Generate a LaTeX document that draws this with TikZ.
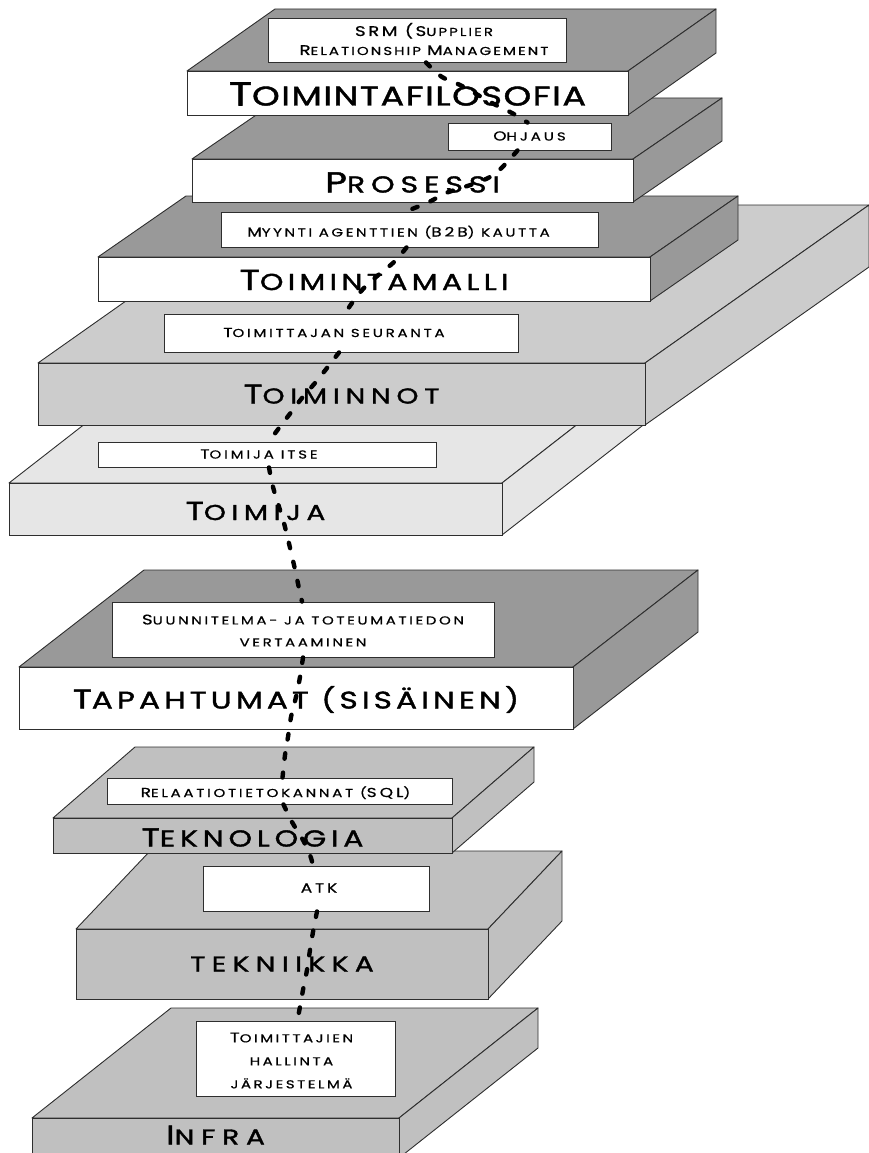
\documentclass[tikz,border=0pt]{standalone}
\usepackage{fontspec}
\usetikzlibrary{calc}
\newfontfamily\cgb[FakeStretch=1.3, FakeBold=1.6]{Poppins}
\newfontfamily\cg[FakeStretch=1.3, FakeBold=0.8]{Poppins}

\definecolor{slabdark}{HTML}{999999}
\definecolor{slabmid}{HTML}{C0C0C0}
\definecolor{slablight}{HTML}{CCCCCC}
\definecolor{slabpale}{HTML}{E6E6E6}
\definecolor{edge}{HTML}{2E2E2E}

% two sizes of capitals: \capB for initials, \capS for the small capitals
\newcommand\setsz[3]{\def\capB{\fontsize{#1}{#3}\selectfont}\def\capS{\fontsize{#2}{#3}\selectfont}\capS}
% fonts: slab titles and box captions, with their letter spacing
\newcommand\titlefont[4]{\cgb\addfontfeatures{LetterSpace=#1}\setsz{#2}{#3}{#4}}
\newcommand\capfont[4]{\cg\addfontfeatures{LetterSpace=#1}\setsz{#2}{#3}{#4}}

\tikzset{
  facet/.style={draw=edge, line width=0.9pt, line join=round},
  face/.style={draw=edge, line width=0.9pt, rectangle, inner sep=0pt},
  slabtitle/.style={inner sep=0pt, text depth=0pt, text height=#1},
  lblbox/.style={draw=edge, line width=0.9pt, fill=white, rectangle, inner sep=0pt},
  caption/.style={inner sep=0pt, align=center},
  caption1/.style={inner sep=0pt, text depth=0pt, text height=8pt},
  link/.style={line width=4.4pt, line cap=round, dash pattern=on 5.5pt off 14pt, black},
}

% slab: name, front face x1 y1 x2 y2, depth dx dy, top/side colour, front colour
\newcommand\slab[9]{%
  \path[facet, fill=#8] (#2,#3) -- ++(#6,#7) -- ($(#4,#3)+(#6,#7)$) -- (#4,#3) -- cycle;
  \path[facet, fill=#8] (#4,#3) -- ++(#6,#7) -- ($(#4,#5)+(#6,#7)$) -- (#4,#5) -- cycle;
  \node[face, fill=#9, minimum width={#4-#2}, minimum height={#5-#3}] (#1) at ({(#2+#4)/2},{(#3+#5)/2}) {};
}
% white label box on a slab top: name, x1 y1 x2 y2
\newcommand\lblbox[5]{%
  \node[lblbox, minimum width={#4-#2}, minimum height={#5-#3}] (#1) at ({(#2+#4)/2},{(#3+#5)/2}) {};
}

\begin{document}
\begin{tikzpicture}[x=1pt, y=-1pt]
\useasboundingbox (0,0) rectangle (868,1153);

% ---- Infra
\slab{infra}{32}{1118}{399}{1158}{139}{-110}{slabmid}{slabmid}
\node[slabtitle=19pt, font=\titlefont{32}{27}{21.5}{27}] (infra-t) at ([yshift=3pt]infra.center) {{\capB I}{\capS NFRA}};
\lblbox{thj}{196}{1021}{395}{1096}
\node[caption, font=\capfont{22}{14}{11.5}{23}] (thj-t) at ([xshift=-4pt,yshift=-2pt]thj.center) {{\capB T}{\capS OIMITTAJIEN}\\{\capS HALLINTA}\\{\capS JÄRJESTELMÄ}};

% ---- tekniikka
\slab{tekn}{76}{929}{488}{999}{74}{-78}{slabmid}{slabmid}
\node[slabtitle=15pt, font=\titlefont{30}{27}{21.5}{27}] (tekn-t) at (tekn) {{\capS TEKNIIKKA}};
\lblbox{atk}{203}{866}{429}{911}
\node[caption1, font=\capfont{22}{13}{11.5}{20}] (atk-t) at ([xshift=3pt]atk.center) {{\capB ATK}};

% ---- Teknologia
\slab{tekno}{53}{818}{452}{853}{82}{-71}{slabmid}{slabmid}
\node[slabtitle=18pt, font=\titlefont{21}{26}{23}{26}] (tekno-t) at ([yshift=-2pt]tekno.center) {{\capB T}{\capS EKNOLOGIA}};
\lblbox{sql}{107}{778}{452}{804}
\node[caption1, font=\capfont{24}{13}{11.5}{20}] (sql-t) at ([xshift=-4pt,yshift=-2pt]sql.center) {{\capB R}{\capS ELAATIOTIETOKANNAT (}{\capB SQL}{\capS )}};

% ---- Tapahtumat (sisäinen)
\slab{tapa}{19}{667}{573}{729}{125}{-97}{slabdark}{white}
\node[slabtitle=19pt, font=\titlefont{17}{27}{24}{27}] (tapa-t) at ([yshift=-1pt]tapa.center) {{\capB T}{\capS APAHTUMAT (SISÄINEN)}};
\lblbox{vert}{112}{602}{494}{657}
\node[caption, font=\capfont{23}{14}{11.5}{22}] (vert-t) at ([yshift=-1pt]vert.center) {{\capB S}{\capS UUNNITELMA- JA TOTEUMATIEDON}\\{\capS VERTAAMINEN}};

% ---- Toimija
\slab{toimija}{9}{483}{502}{535}{190}{-148}{slabpale}{slabpale}
\node[slabtitle=18pt, font=\titlefont{26}{26}{21.5}{26}] (toimija-t) at ([yshift=-2pt]toimija.center) {{\capB T}{\capS OIMIJA}};
\lblbox{itse}{98}{442}{436}{467}
\node[caption1, font=\capfont{25}{13}{11.5}{20}] (itse-t) at ([xshift=-8pt]itse.center) {{\capB T}{\capS OIMIJA ITSE}};

% ---- Toiminnot
\slab{toiminnot}{38}{363}{645}{425}{224}{-158}{slablight}{slablight}
\node[slabtitle=19pt, font=\titlefont{27}{27}{21.5}{27}] (toiminnot-t) at (toiminnot) {{\capB T}{\capS OIMINNOT}};
\lblbox{seur}{164}{314}{518}{352}
\node[caption1, font=\capfont{24}{13}{11.5}{20}] (seur-t) at ([xshift=-7pt]seur.center) {{\capB T}{\capS OIMITTAJAN SEURANTA}};

% ---- Toimintamalli
\slab{malli}{98}{257}{650}{301}{88}{-61}{slabdark}{white}
\node[slabtitle=20pt, font=\titlefont{19}{29}{23}{29}] (malli-t) at ([yshift=-1pt]malli.center) {{\capB T}{\capS OIMINTAMALLI}};
\lblbox{myynti}{221}{212}{598}{247}
\node[caption1, font=\capfont{23}{13}{11.5}{20}] (myynti-t) at ([xshift=-11pt,yshift=-3pt]myynti.center) {{\capB M}{\capS YYNTI AGENTTIEN (}{\capB B2B}{\capS ) KAUTTA}};

% ---- Prosessi
\slab{pros}{192}{159}{633}{202}{89}{-61}{slabdark}{white}
\node[slabtitle=20pt, font=\titlefont{26}{29}{23}{29}] (pros-t) at ([yshift=-2pt]pros.center) {{\capB P}{\capS ROSESSI}};
\lblbox{ohjaus}{448}{123}{611}{150}
\node[caption1, font=\capfont{26}{13}{11.5}{20}] (ohjaus-t) at (ohjaus) {{\capB O}{\capS HJAUS}};

% ---- Toimintafilosofia
\slab{filo}{187}{71}{628}{115}{88}{-62}{slabdark}{white}
\node[slabtitle=23pt, font=\titlefont{6}{33}{27}{33}] (filo-t) at ([yshift=-1pt]filo.center) {{\capB T}{\capS OIMINTAFILOSOFIA}};
\lblbox{srm}{268}{18}{566}{62}
\node[caption, font=\capfont{18}{14}{11.5}{19}] (srm-t) at ([xshift=7pt,yshift=1pt]srm.center) {{\capB SRM (S}{\capS UPPLIER}\\{\capB R}{\capS ELATIONSHIP} {\capB M}{\capS ANAGEMENT}};

% ---- dotted thread linking the label boxes
\draw[link] plot[smooth, tension=0.6] coordinates {([xshift=9pt]srm.south) (442,77) (462,86) (492,103) (512,113) ([xshift=-2pt]ohjaus.north)};
\draw[link] plot[smooth, tension=0.6] coordinates {([xshift=-12pt]ohjaus.south) (496,173) (476,183) (446,193) (429,202) ([xshift=-4pt]myynti.north)};
\draw[link] plot[smooth, tension=0.6] coordinates {([xshift=-3pt]myynti.south) (394,262) (376,277) (363,289) (352,303) ([xshift=4pt]seur.north)};
\draw[link] plot[smooth, tension=0.6] coordinates {([xshift=-2pt]seur.south) (327,368) (315,383) (302,398) (289,415) (279,428) ([xshift=2pt]itse.north)};
\draw[link] plot[smooth, tension=0.6] coordinates {([xshift=2pt]itse.south) (273,487) (280,510) (285,527) (294,565) (300,593) ([xshift=-1pt]vert.north)};
\draw[link] plot[smooth, tension=0.6] coordinates {(vert.south) (300,677) (296,697) (291,717) (288,737) (285,755) ([xshift=3pt]sql.north)};
\draw[link] plot[smooth, tension=0.6] coordinates {([xshift=4pt]sql.south) (292,822) (303,840) (310,855) ([xshift=-3pt]atk.north)};
\draw[link] plot[smooth, tension=0.6] coordinates {([xshift=1pt]atk.south) (313,932) (310,950) (307,970) (303,990) ([xshift=2pt]thj.north)};
\end{tikzpicture}
\end{document}
